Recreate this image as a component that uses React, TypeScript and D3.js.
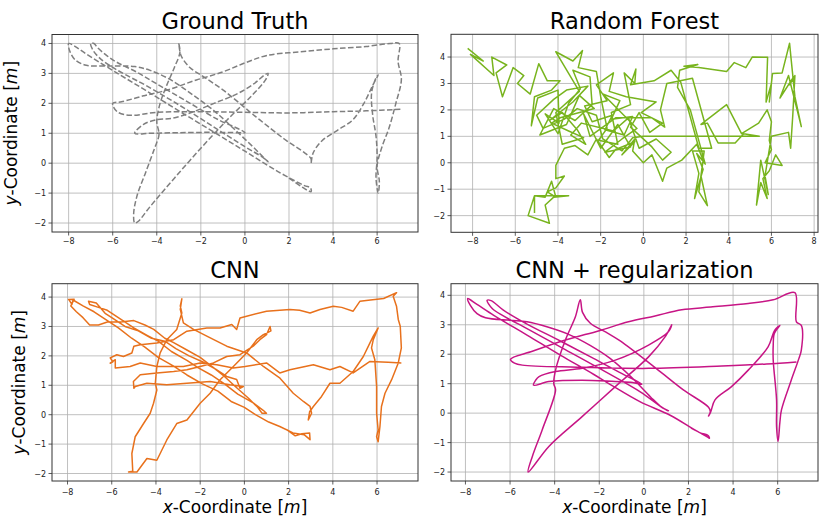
import * as d3 from 'd3'

type Pt = [number, number]

// ground truth trajectory (dashed)
const groundTruth: Pt[] = [
  [2.0,-0.5],[2.6,-0.8],[2.9,-0.93],[3.0,-0.95],[2.97,-0.82],
  [2.7,-0.75],[1.5,-0.28],[0,0.4],[-1.5,1.08],[-3,1.75],[-4.5,2.43],[-6,3.1],[-7.2,3.65],[-7.75,3.92],[-8.0,4.0],
  [-7.95,3.75],[-7.7,3.45],[-7.2,3.27],[-6.2,3.25],[-5.0,3.23],[-4.3,3.1],[-3.4,2.8],[-2.4,2.3],[-1.4,1.75],[-0.5,1.15],[0.5,0.45],[0.9,0.15],[1.05,0.05],
  [0.8,0.2],[0,0.55],[-1.5,1.25],[-3,1.95],[-4.5,2.6],[-5.4,2.95],[-6.0,3.2],[-6.6,3.52],[-6.9,3.78],[-7.0,4.0],
  [-6.85,4.0],[-6.7,3.87],[-6.28,3.6],[-5.83,3.38],[-4.93,3.05],[-4.0,2.65],[-2.6,2.05],[-1.2,1.45],[-0.3,1.15],[0.0,1.02],
  [-0.3,1.02],[-1.5,1.03],[-3,1.02],[-4.3,1.0],[-5.0,1.0],
  [-4.6,1.3],[-4.0,1.45],[-3.3,1.5],[-2.4,1.7],[-1.4,2.0],[-0.4,2.3],[0.4,2.65],[0.9,2.95],[1.05,3.0],[0.95,2.8],
  [0.3,2.25],[-0.8,1.45],[-2,0.5],[-3.2,-0.5],[-4.3,-1.45],[-4.85,-1.95],[-5.0,-2.0],
  [-5.05,-1.7],[-4.9,-1.1],[-4.5,-0.3],[-4.1,0.5],[-3.9,0.95],[-4.0,1.4],[-3.85,2.0],[-3.55,2.6],[-3.2,3.2],[-2.95,3.7],[-3.0,4.0],
  [-2.9,3.6],[-2.5,3.2],[-1.9,2.9],[-1.0,2.45],[0.5,1.55],[1.8,0.8],[2.7,0.35],[3.0,0.15],[3.0,0.0],
  [3.1,0.35],[3.5,0.75],[4.2,1.1],[4.9,1.45],[5.4,2.0],[5.8,2.6],[6.05,2.95],[5.95,2.85],
  [5.75,2.35],[5.8,1.6],[5.95,0.9],[6.0,0.2],[5.95,-0.5],[6.05,-1.0],
  [6.1,-0.6],[6.0,-0.1],[6.2,0.5],[6.55,1.2],[6.85,2.0],[7.1,2.8],[6.95,3.4],[7.0,4.0],
  [6.6,4.0],[5.5,3.9],[4.0,3.82],[2.5,3.72],[1.0,3.6],[0,3.35],[-1.0,3.05],[-2.2,2.78],[-3.5,2.45],[-4.6,2.25],[-5.6,2.05],[-6.0,2.0],
  [-5.8,1.72],[-5.2,1.6],[-4.0,1.7],[-2,1.72],[0,1.7],[2,1.68],[4,1.72],[5.5,1.75],[7.1,1.8],
]

// random forest prediction
const randomForest: Pt[] = [
  [-8.23,4.33],[-7.5,3.85],[-8.1,4.1],[-7.0,3.3],[-7.1,4.0],[-6.4,3.7],[-6.9,3.4],[-6.6,2.5],[-6.1,3.6],[-5.6,3.3],
  [-5.9,3.0],[-5.3,2.6],[-4.9,3.75],[-4.5,3.1],[-3.9,3.1],[-4.3,2.75],[-5.1,2.5],[-5.25,1.4],[-4.95,2.45],[-4.0,2.75],
  [-3.95,1.5],[-4.6,1.85],[-4.0,1.1],[-3.5,2.25],[-2.95,2.8],[-3.3,3.5],[-2.5,3.25],[-2.4,2.2],[-3.2,1.6],[-4.2,2.05],
  [-4.85,1.05],[-3.6,1.45],[-3.0,2.55],[-2.3,2.05],[-3.9,1.7],[-4.3,1.5],[-3.5,1.2],[-2.8,0.95],[-3.8,0.7],[-4.1,1.9],
  [-3.0,2.7],[-4.1,4.2],[-3.3,3.85],[-2.85,4.25],[-3.05,3.6],[-2.2,3.45],
  [-2.0,2.5],[-1.7,1.3],[-2.1,0.85],[-1.2,0.7],[-1.5,1.9],[-0.6,2.2],[-0.9,3.4],[-0.4,3.0],[-0.35,3.55],[-0.6,2.95],
  [0.5,3.1],[1.3,3.5],[1.75,3.05],[2.6,0.55],[3.2,0.55],[2.3,3.2],[1.1,3.0],[0.8,2.0],[1.0,1.35],[0.4,1.7],
  [-1.3,1.7],[-2.5,1.0],[-2.8,1.85],[-2.0,0.55],[-1.2,1.45],[-0.6,0.6],[-1.8,0.4],[-1.0,0.9],[-0.3,1.3],
  [-1.9,2.6],[-1.1,2.35],[-1.5,1.65],[-0.5,1.75],[-0.9,1.05],[-1.8,1.25],[-1.45,1.8],[-2.4,1.55],[-2.75,2.15],[-1.7,2.35],
  [-2.2,2.95],[-1.4,3.4],[-1.6,2.7],[-0.8,2.5],[0.6,2.3],[-0.1,1.9],[0.9,1.5],[0.3,1.15],[-0.2,1.9],[-0.6,1.35],
  [0.4,0.6],[0.9,0.1],[1.3,0.4],[0.6,0.9],[-0.2,0.55],[-0.7,1.7],[-1.4,1.2],[-2.9,1.5],[-3.4,1.05],[-2.7,0.7],
  [-3.1,1.25],[-3.8,1.9],[-4.4,1.6],[-3.3,2.3],[-2.6,2.9],[-3.6,2.75],[-4.2,2.4],[-5.0,1.8],[-4.7,1.3],[-3.7,1.65],
  [-3.1,2.05],[-2.2,1.8],[-1.9,0.9],[-1.0,0.45],[-0.5,0.95],[0.0,1.0],
  [5.43,1.0],[4.7,1.1],[4.3,0.75],[3.5,0.75],[3.0,1.5],[2.7,1.45],[3.9,2.2],[4.6,1.1],[5.4,1.5],[5.8,2.0],
  [6.0,1.55],[5.9,0.85],[6.0,0.5],[5.7,0.0],[6.5,-0.1],[6.2,0.3],[5.9,-0.3],[5.6,-0.6],[5.8,-1.35],[5.5,-0.75],
  [5.3,-1.6],[5.5,0.1],[5.85,-1.2],[5.7,-0.5],[6.0,1.0],[6.8,1.15],[6.9,0.55],[7.0,1.8],[7.1,3.3],[6.85,2.95],
  [7.0,3.2],[6.4,2.45],[6.8,3.3],[7.4,1.37],[7.1,2.5],[6.9,4.1],[6.95,3.7],[6.85,4.52],[6.5,3.4],[6.05,3.38],
  [5.9,2.3],[6.0,3.0],[5.75,2.3],[5.82,3.99],[5.1,4.0],[4.8,3.6],[4.26,3.79],[3.9,3.45],[2.6,3.6],[1.9,3.65],
  [2.55,3.72],[1.7,3.5],
  [1.6,2.85],[2.2,2.0],[2.9,-0.05],[2.5,0.35],[2.8,-0.25],[2.4,-1.35],[2.6,-0.4],[2.3,0.45],[2.85,0.45],[2.6,-1.1],
  [3.0,-1.62],[2.7,-0.5],[2.8,0.1],[2.5,0.7],[1.8,0.1],[1.1,-0.2],[0.9,-0.7],[0.4,0.3],[0.0,0.0],[-0.5,0.45],
  [-0.4,0.9],[-1.0,0.3],[-0.4,0.8],[-1.3,0.5],[-1.6,0.2],[-2.2,0.9],[-2.6,0.3],[-3.2,0.65],[-3.7,0.55],[-4.1,-0.1],
  [-4.1,-0.6],[-3.7,-0.5],[-4.1,-0.95],[-4.5,-1.1],[-4.1,-1.3],[-4.3,-0.7],[-4.6,-1.3],[-5.1,-1.25],[-5.4,-2.0],[-4.4,-2.29],
  [-4.6,-1.6],[-4.2,-1.3],[-3.5,-1.25],[-5.1,-1.25],[-5.1,-1.9],
]

// CNN prediction
const cnn: Pt[] = [
  [1.9,-0.5],[2.3,-0.72],[2.6,-0.65],[2.95,-0.62],[2.97,-0.85],[2.7,-0.68],
  [2.2,-0.62],[1.6,-0.4],[1.1,-0.25],[0.5,0.0],[0.0,0.25],[-0.6,0.45],[-1.2,0.8],[-1.9,1.05],[-2.6,1.35],[-3.2,1.65],
  [-3.9,1.95],[-4.5,2.3],[-5.1,2.6],[-5.7,2.95],[-6.3,3.25],[-6.8,3.5],[-7.3,3.7],[-7.75,3.9],[-7.8,3.75],[-7.95,3.92],[-7.7,3.93],
  [-7.85,3.7],[-7.6,3.5],[-7.3,3.3],[-7.0,3.05],[-6.6,3.05],[-6.2,3.15],[-5.6,3.15],[-5.0,3.2],[-4.5,3.05],[-4.1,2.9],
  [-3.6,2.6],[-3.2,2.45],[-2.6,2.2],[-2.0,1.95],[-1.4,1.6],[-0.9,1.3],[-0.4,0.95],[0.2,0.55],[0.6,0.25],[0.8,0.05],[1.0,0.05],
  [0.85,0.15],[0.4,0.4],[-0.3,0.7],[-0.9,1.05],[-1.5,1.35],[-2.1,1.6],[-2.6,1.85],[-3.3,2.15],[-3.9,2.5],[-4.4,2.7],
  [-5.0,2.95],[-5.6,3.25],[-6.2,3.55],[-6.6,3.65],[-7.0,3.75],[-7.05,3.86],
  [-6.7,3.8],[-6.3,3.45],[-6.0,3.3],[-5.4,3.0],[-4.8,2.85],[-4.2,2.6],[-3.6,2.5],[-3.1,2.25],[-2.5,2.0],[-1.9,1.8],
  [-1.3,1.55],[-0.8,1.3],[-0.35,1.2],[-0.2,0.9],[-0.05,0.96],
  [-0.65,1.02],[-1.55,1.13],[-2.6,1.07],[-3.51,1.02],[-4.41,1.07],[-4.94,0.96],[-5.0,0.9],
  [-5.02,1.13],[-4.71,1.36],[-3.96,1.42],[-3.2,1.47],[-2.6,1.53],[-2.0,1.64],[-1.4,1.76],[-0.8,1.98],[-0.2,2.04],
  [0.4,2.33],[0.7,2.55],[1.0,2.72],[1.16,3.0],[1.2,2.85],
  [0.86,2.72],[0.56,2.55],[0.1,2.1],[-0.5,1.64],[-1.1,1.19],[-1.55,0.73],[-2.0,0.39],[-2.6,-0.18],[-3.06,-0.3],
  [-3.51,-0.86],[-3.96,-1.55],[-4.41,-1.49],[-4.86,-1.95],[-5.24,-1.95],[-5.05,-1.92],
  [-5.09,-1.32],[-4.94,-0.75],[-4.56,-0.3],[-4.26,0.05],[-4.11,0.39],[-3.96,0.84],[-4.03,1.07],[-3.96,1.64],
  [-3.81,2.1],[-3.51,2.55],[-3.06,2.9],[-2.83,3.46],[-2.9,3.7],[-2.83,3.94],
  [-2.9,3.58],[-2.76,3.12],[-2.3,2.9],[-1.7,2.67],[-0.8,2.33],[0.1,2.1],[0.86,1.64],[1.61,1.24],[2.21,0.73],
  [2.67,0.45],[2.97,0.28],[3.04,0.05],[2.89,-0.18],[2.95,0.1],
  [3.12,0.28],[3.49,0.62],[3.87,1.07],[4.32,1.07],[4.92,1.47],[5.38,1.98],[5.68,2.44],[5.83,2.67],[6.05,2.95],
  [5.83,2.55],[5.75,2.27],[5.9,1.87],[5.98,0.96],[5.98,0.05],[6.05,-0.52],[5.98,-0.75],[6.05,-0.92],
  [6.13,-0.41],[6.2,0.28],[6.36,0.73],[6.66,1.19],[6.96,1.76],[7.1,2.27],[7.05,3.01],[6.96,3.24],[6.88,3.69],
  [6.73,4.03],[6.88,4.15],
  [6.3,3.95],[5.7,3.9],[5.23,3.86],[4.92,3.52],[4.4,3.65],[4.02,3.69],[3.42,3.58],[2.97,3.46],[2.5,3.55],[2.06,3.58],
  [1.0,3.52],[0.1,3.35],[-0.2,3.29],[-0.35,2.9],[-0.57,3.07],[-1.1,2.95],[-1.7,2.95],[-2.6,2.84],[-3.2,2.55],
  [-3.96,2.44],[-4.71,2.38],[-5.0,2.33],[-5.09,2.1],[-5.47,1.98],[-5.77,2.04],[-6.07,1.93],[-5.95,1.8],[-6.07,1.75],
  [-5.84,1.87],[-5.84,1.59],[-5.17,1.64],[-4.71,1.76],[-3.96,1.64],[-2.76,1.64],[-2.0,1.76],[-1.25,1.7],[-0.5,1.59],
  [0.03,1.64],[1.0,1.76],[1.6,1.42],[2.06,1.53],[3.12,1.7],[3.87,1.53],[4.32,1.64],[4.92,1.42],[5.68,1.81],[6.5,1.78],[7.1,1.76],
]

// CNN + regularization prediction
const cnnReg: Pt[] = [
  [2.1,-0.5],[2.6,-0.7],[2.88,-0.82],[2.94,-0.85],[2.88,-0.76],
  [2.5,-0.66],[1.2,-0.08],[-0.18,0.39],[-1.5,0.97],[-2.26,1.32],[-3.75,1.97],[-5.24,2.65],[-6.73,3.32],[-7.5,3.7],[-7.9,3.89],
  [-7.78,3.66],[-7.48,3.38],[-7.1,3.24],[-6.0,3.15],[-5.24,3.1],[-4.35,2.93],[-3.3,2.65],[-2.41,2.3],[-1.5,1.85],
  [-0.6,1.25],[0.3,0.55],[0.8,0.2],[1.1,0.08],
  [0.9,0.15],[-0.18,0.73],[-2.26,1.63],[-3.75,2.25],[-5.24,2.87],[-6.3,3.3],[-6.8,3.55],[-7.03,3.83],
  [-6.85,3.82],[-6.3,3.5],[-5.3,3.05],[-3.75,2.45],[-2.26,1.86],[-1.0,1.35],[-0.3,1.08],[-0.09,0.98],
  [-0.5,1.04],[-1.28,1.07],[-2.77,1.12],[-4.26,1.07],[-4.95,0.95],
  [-4.85,1.12],[-4.7,1.24],[-3.96,1.41],[-2.77,1.52],[-1.28,1.8],[0.21,2.31],[1.1,2.76],[1.25,3.0],
  [0.95,2.59],[0.21,1.91],[-1.28,0.9],[-2.77,-0.12],[-4.26,-1.13],[-5.19,-2.0],
  [-5.0,-1.47],[-4.56,-0.57],[-3.96,0.79],[-4.04,1.0],[-3.96,1.46],[-3.52,2.48],[-3.07,3.27],[-2.85,3.85],
  [-2.75,3.42],[-2.4,3.05],[-1.7,2.75],[-1.06,2.45],[0.73,1.41],[1.77,0.79],[2.9,0.2],[2.98,0.05],[2.9,-0.1],
  [3.0,0.05],[3.19,0.45],[3.93,0.9],[4.68,1.46],[5.57,2.25],[5.87,2.82],[6.1,2.98],
  [5.85,2.7],[5.8,2.3],[5.8,1.8],[5.95,0.45],[5.95,-0.45],[6.02,-0.96],
  [6.1,-0.3],[6.17,0.11],[6.6,1.1],[6.95,1.85],[7.06,2.14],[7.06,2.98],[6.84,3.1],[6.77,4.09],
  [5.8,3.85],[4.68,3.72],[3.0,3.6],[1.7,3.51],[0.5,3.3],[-0.69,3.1],[-2.0,2.8],[-3.52,2.48],[-5.0,2.1],[-5.98,1.83],
  [-5.8,1.7],[-5.45,1.63],[-3.0,1.56],[0.21,1.52],[3.5,1.6],[5.5,1.67],[6.84,1.74],
]

const xTicks = [-8, -6, -4, -2, 0, 2, 4, 6]
const xTicksRF = [-8, -6, -4, -2, 0, 2, 4, 6, 8]
const yTicks = [-2, -1, 0, 1, 2, 3, 4]

const FONT = 'DejaVu Sans, sans-serif'
const fmt = (v: number) => (v < 0 ? '\u2212' + Math.abs(v) : String(v))

type PanelProps = {
  data: Pt[]
  title: string
  left: number
  top: number
  width: number
  height: number
  color: string
  dash?: string
  smooth?: boolean
  xt: number[]
  ylabelX?: number
  xlabel?: boolean
  tickGap: number
}

// matplotlib style: 5% margin around data extent
function padded(ext: [number, number]): [number, number] {
  const r = ext[1] - ext[0]
  return [ext[0] - 0.05 * r, ext[1] + 0.05 * r]
}

const Panel = (p: PanelProps) => {
  const xe = d3.extent(p.data, d => d[0]) as [number, number]
  const ye = d3.extent(p.data, d => d[1]) as [number, number]
  const x = d3.scaleLinear().domain(padded(xe)).range([p.left, p.left + p.width])
  const y = d3.scaleLinear().domain(padded(ye)).range([p.top + p.height, p.top])
  const line = d3.line<Pt>()
    .x(d => x(d[0]))
    .y(d => y(d[1]))
    .curve(p.smooth ? d3.curveCatmullRom.alpha(0.5) : d3.curveLinear)
  const bottom = p.top + p.height
  const cx = p.left + p.width / 2
  const clipId = `clip${Math.round(p.left)}_${Math.round(p.top)}`
  return (
    <g>
      <defs>
        <clipPath id={clipId}>
          <rect x={p.left} y={p.top} width={p.width} height={p.height} />
        </clipPath>
      </defs>
      {p.xt.map(t => (
        <line key={'gx' + t} x1={x(t)} x2={x(t)} y1={p.top} y2={bottom} stroke="#b0b0b0" strokeWidth={0.8} />
      ))}
      {yTicks.map(t => (
        <line key={'gy' + t} x1={p.left} x2={p.left + p.width} y1={y(t)} y2={y(t)} stroke="#b0b0b0" strokeWidth={0.8} />
      ))}
      <path
        d={line(p.data) || ''}
        fill="none"
        stroke={p.color}
        strokeWidth={1.5}
        strokeDasharray={p.dash}
        strokeLinejoin="round"
        clipPath={`url(#${clipId})`}
      />
      <rect x={p.left} y={p.top} width={p.width} height={p.height} fill="none" stroke="#333" strokeWidth={1} />
      {p.xt.map(t => (
        <g key={'tx' + t}>
          <line x1={x(t)} x2={x(t)} y1={bottom} y2={bottom + 3.5} stroke="#333" strokeWidth={0.8} />
          <text x={x(t)} y={bottom + p.tickGap} textAnchor="middle" fontSize={8} fontFamily={FONT} fill="#222">
            {fmt(t)}
          </text>
        </g>
      ))}
      {yTicks.map(t => (
        <g key={'ty' + t}>
          <line x1={p.left - 3.5} x2={p.left} y1={y(t)} y2={y(t)} stroke="#333" strokeWidth={0.8} />
          <text x={p.left - 6} y={y(t) + 3} textAnchor="end" fontSize={8} fontFamily={FONT} fill="#222">
            {fmt(t)}
          </text>
        </g>
      ))}
      <text x={cx} y={p.top - 5.5} textAnchor="middle" fontSize={22.5} fontFamily={FONT} fill="#000">
        {p.title}
      </text>
      {p.ylabelX !== undefined && (
        <text
          transform={`translate(${p.ylabelX},${p.top + p.height / 2}) rotate(-90)`}
          textAnchor="middle"
          fontSize={17}
          fontFamily={FONT}
          fill="#000"
        >
          <tspan fontStyle="italic">y</tspan>-Coordinate [<tspan fontStyle="italic">m</tspan>]
        </text>
      )}
      {p.xlabel && (
        <text x={cx} y={bottom + 32} textAnchor="middle" fontSize={17} fontFamily={FONT} fill="#000">
          <tspan fontStyle="italic">x</tspan>-Coordinate [<tspan fontStyle="italic">m</tspan>]
        </text>
      )}
    </g>
  )
}

export default function App() {
  return (
    <svg
      width={830}
      height={529}
      style={{ position: 'absolute', left: 0, top: 0, background: '#fff' }}
    >
      <Panel data={groundTruth} title="Ground Truth" left={52} top={34.5} width={366} height={197.5}
        color="#7f7f7f" dash="5.5,2.4" smooth xt={xTicks} ylabelX={17} tickGap={11.5} />
      <Panel data={randomForest} title="Random Forest" left={451} top={34.3} width={367} height={198}
        color="#78b41e" xt={xTicksRF} tickGap={11.5} />
      <Panel data={cnn} title="CNN" left={52} top={283.7} width={366} height={197.3}
        color="#e8711c" xt={xTicks} ylabelX={25} xlabel tickGap={14} />
      <Panel data={cnnReg} title="CNN + regularization" left={451} top={283.7} width={367} height={197.3}
        color="#c71585" smooth xt={xTicks} xlabel tickGap={14} />
    </svg>
  )
}
